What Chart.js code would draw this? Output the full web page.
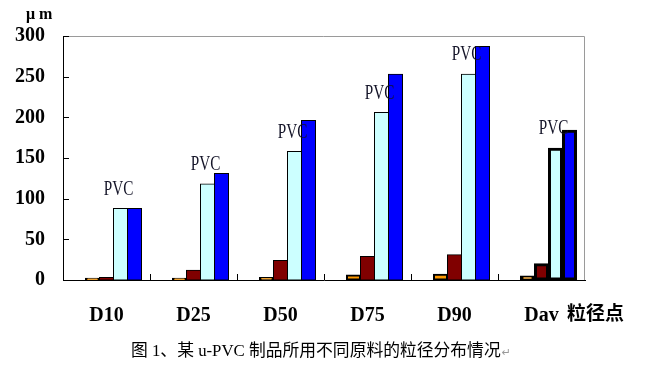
<!DOCTYPE html>
<html>
<head>
<meta charset="utf-8">
<script src="https://cdn.jsdelivr.net/npm/chart.js@4"></script>
<style>
  body { margin: 0; background: #fff; }
</style>
</head>
<body>
<canvas id="chart" width="651" height="370"></canvas>
<script>
// data
const categories = ["D10", "D25", "D50", "D75", "D90", "Dav"];
const blankValues = [0, 0, 0, 0, 0, 0];
const orangeValues = [2, 2, 3, 6, 7, 5];
const redValues = [3, 12, 24, 29, 31, 20];
const cyanValues = [88, 118, 158, 206, 253, 162];
const blueValues = [88, 131, 196, 253, 287, 184];
const yMax = 300;
const yStep = 50;
const barLabel = "PVC";
const unitLabel = "μ m";
const xAxisName = "粒径点";
const caption = "图 1、某 u-PVC 制品所用不同原料的粒径分布情况";

const borders = [1, 1, 1, 1, 1, 3];
const smallBorders = [2, 2, 2, 2, 2, 3];

function makeDataset(values, color, width) {
  return {
    data: values,
    backgroundColor: color,
    borderColor: "#000",
    borderWidth: width,
    borderSkipped: false,
    inflateAmount: 0.5,
  };
}

// draws the frame, inward ticks, PVC labels and the texts around the plot
const extrasPlugin = {
  id: "extras",
  afterDatasetsDraw(chart) {
    const ctx = chart.ctx;
    const area = chart.chartArea;
    const xScale = chart.scales.x;
    const yScale = chart.scales.y;

    ctx.save();
    // top and right frame
    ctx.strokeStyle = "#9a9a9a";
    ctx.lineWidth = 1;
    ctx.beginPath();
    ctx.moveTo(area.left, area.top + 0.5);
    ctx.lineTo(area.right - 0.5, area.top + 0.5);
    ctx.lineTo(area.right - 0.5, area.bottom);
    ctx.stroke();

    // inward ticks
    ctx.strokeStyle = "#000";
    ctx.beginPath();
    yScale.ticks.forEach((t, i) => {
      const y = Math.round(yScale.getPixelForTick(i)) + 0.5;
      ctx.moveTo(area.left, y);
      ctx.lineTo(area.left + 6, y);
    });
    for (let i = 0; i < categories.length - 1; i++) {
      const x = Math.round((xScale.getPixelForTick(i) + xScale.getPixelForTick(i + 1)) / 2) + 0.5;
      ctx.moveTo(x, area.bottom);
      ctx.lineTo(x, area.bottom - 6);
    }
    ctx.stroke();

    // PVC labels above the cyan bars
    const meta = chart.getDatasetMeta(3);
    ctx.fillStyle = "#141428";
    ctx.font = "20px 'Liberation Serif'";
    ctx.textAlign = "center";
    ctx.textBaseline = "middle";
    meta.data.forEach((bar) => {
      ctx.save();
      ctx.translate(bar.x - 2, bar.y - 19);
      ctx.scale(0.76, 1);
      ctx.fillText(barLabel, 0, 0);
      ctx.restore();
    });

    // unit label
    ctx.fillStyle = "#000";
    ctx.font = "bold 16px 'Liberation Serif'";
    ctx.textAlign = "left";
    ctx.fillText(unitLabel, 26, 15);

    // axis name after the last category
    ctx.font = "bold 19px 'Noto Sans CJK SC'";
    ctx.fillText(xAxisName, 567, 313);

    // caption
    ctx.font = "16.8px 'Liberation Serif', 'Noto Sans CJK SC'";
    ctx.fillText(caption, 131, 352);
    const w = ctx.measureText(caption).width;
    ctx.fillStyle = "#999";
    ctx.font = "11px 'DejaVu Sans'";
    ctx.fillText("↵", 131 + w + 1, 353);
    ctx.restore();
  },
};

new Chart(document.getElementById("chart"), {
  type: "bar",
  data: {
    labels: categories,
    datasets: [
      { data: blankValues, backgroundColor: "rgba(0,0,0,0)", borderWidth: 0 },
      makeDataset(orangeValues, "#ff9900", smallBorders),
      makeDataset(redValues, "#800000", borders),
      makeDataset(cyanValues, "#ccffff", borders),
      makeDataset(blueValues, "#0000ff", borders),
    ],
  },
  options: {
    responsive: false,
    animation: false,
    layout: { padding: { top: 36, right: 66, left: 0, bottom: 0 } },
    datasets: {
      bar: { categoryPercentage: 70 / 87, barPercentage: 1 },
    },
    plugins: {
      legend: { display: false },
      title: { display: false },
      tooltip: { enabled: false },
    },
    scales: {
      x: {
        grid: { display: false, drawTicks: false },
        border: { display: true, color: "#000", width: 1 },
        ticks: {
          color: "#000",
          padding: 24,
          font: { family: "'Liberation Serif'", size: 20, weight: "bold" },
        },
        afterFit(scale) {
          scale.height = 90;
        },
      },
      y: {
        min: 0,
        max: yMax,
        grid: { display: false, drawTicks: false },
        border: { display: true, color: "#000", width: 1 },
        ticks: {
          stepSize: yStep,
          color: "#000",
          padding: 18,
          font: { family: "'Liberation Serif'", size: 20, weight: "bold" },
        },
        afterFit(scale) {
          scale.width = 63;
        },
      },
    },
  },
  plugins: [extrasPlugin],
});
</script>
</body>
</html>
